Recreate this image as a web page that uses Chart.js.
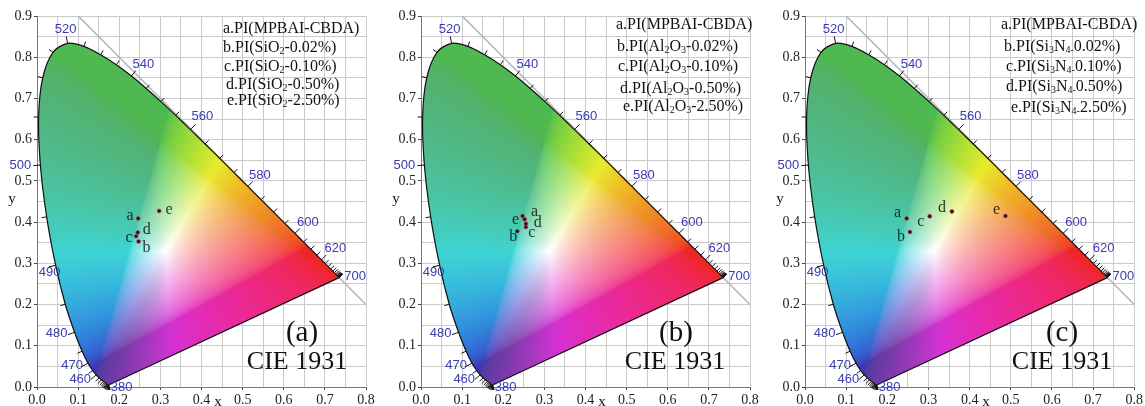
<!DOCTYPE html>
<html>
<head>
<meta charset="utf-8">
<script src="https://cdn.jsdelivr.net/npm/chart.js@4.4.0/dist/chart.umd.min.js"></script>
<style>
  html, body { margin: 0; padding: 0; background: #fff; }
  #wrap { position: relative; width: 1145px; height: 406px; overflow: hidden; }
  canvas { position: absolute; top: 0; }
</style>
</head>
<body>
<div id="wrap">
  <canvas id="cieA" width="380" height="406" style="left:0px"></canvas>
  <canvas id="cieB" width="380" height="406" style="left:383px"></canvas>
  <canvas id="cieC" width="378" height="406" style="left:767px"></canvas>
</div>
<script>
// CIE 1931 2-degree spectral locus, 5 nm steps
const wavelengths = [380,385,390,395,400,405,410,415,420,425,430,435,440,445,450,455,460,465,470,475,
  480,485,490,495,500,505,510,515,520,525,530,535,540,545,550,555,560,565,570,575,580,585,590,595,
  600,605,610,615,620,625,630,635,640,645,650,655,660,665,670,675,680,685,690,695,700];
const locusX = [0.1741,0.1740,0.1738,0.1736,0.1733,0.1730,0.1726,0.1721,0.1714,0.1703,0.1689,0.1669,
  0.1644,0.1611,0.1566,0.1510,0.1440,0.1355,0.1241,0.1096,0.0913,0.0687,0.0454,0.0235,0.0082,0.0039,
  0.0139,0.0389,0.0743,0.1142,0.1547,0.1929,0.2296,0.2658,0.3016,0.3373,0.3731,0.4087,0.4441,0.4788,
  0.5125,0.5448,0.5752,0.6029,0.6270,0.6482,0.6658,0.6801,0.6915,0.7006,0.7079,0.7140,0.7190,0.7230,
  0.7260,0.7283,0.7300,0.7311,0.7320,0.7327,0.7334,0.7340,0.7344,0.7346,0.7347];
const locusY = [0.0050,0.0050,0.0049,0.0049,0.0048,0.0048,0.0048,0.0048,0.0051,0.0058,0.0069,0.0086,
  0.0109,0.0138,0.0177,0.0227,0.0297,0.0399,0.0578,0.0868,0.1327,0.2007,0.2950,0.4127,0.5384,0.6548,
  0.7502,0.8120,0.8338,0.8262,0.8059,0.7816,0.7543,0.7243,0.6923,0.6589,0.6245,0.5896,0.5547,0.5202,
  0.4866,0.4544,0.4242,0.3965,0.3725,0.3514,0.3340,0.3197,0.3083,0.2993,0.2920,0.2859,0.2809,0.2770,
  0.2740,0.2717,0.2700,0.2689,0.2680,0.2673,0.2666,0.2660,0.2656,0.2654,0.2653];
const labeledWl = [380,460,470,480,490,500,520,540,560,580,600,620,700];

// x + y = 1 reference line
const diagX = [0.1, 0.8];
const diagY = [0.9, 0.2];

const sampleIds = ['a','b','c','d','e'];
const sio2X = [0.246, 0.247, 0.241, 0.245, 0.297];
const sio2Y = [0.409, 0.353, 0.366, 0.375, 0.427];
const al2o3X = [0.247, 0.234, 0.255, 0.255, 0.252];
const al2o3Y = [0.415, 0.378, 0.388, 0.396, 0.407];
const si3n4X = [0.247, 0.255, 0.303, 0.357, 0.487];
const si3n4Y = [0.409, 0.376, 0.414, 0.426, 0.415];

// ~ toggles subscript
const sio2Names = ['a.PI(MPBAI-CBDA)','b.PI(SiO~2~-0.02%)','c.PI(SiO~2~-0.10%)','d.PI(SiO~2~-0.50%)','e.PI(SiO~2~-2.50%)'];
const al2o3Names = ['a.PI(MPBAI-CBDA)','b.PI(Al~2~O~3~-0.02%)','c.PI(Al~2~O~3~-0.10%)','d.PI(Al~2~O~3~-0.50%)','e.PI(Al~2~O~3~-2.50%)'];
const si3n4Names = ['a.PI(MPBAI-CBDA)','b.PI(Si~3~N~4-~0.02%)','c.PI(Si~3~N~4-~0.10%)','d.PI(Si~3~N~4-~0.50%)','e.PI(Si~3~N~4-~2.50%)'];

// label offsets in px for the wavelength numbers
const wlOffset = {380:[13,2],460:[-16,5],470:[-16,2],480:[-18,1],490:[-6,7],500:[-20,0],
  520:[-2,-14],540:[12,-12],560:[12,-13],580:[12,-11],600:[13,-11],620:[14,-11],700:[16,-1]};

const panels = [
  { id: 'cieA', xs: sio2X, ys: sio2Y, names: sio2Names, tag: '(a)', yWidth: 37, padRight: 14,
    legend: [[186,13],[186,32],[187,51],[189,69],[190,85]],
    labelOff: [[-8,-3],[8,6],[-7,2],[9,-3],[10,-1]], tagPos: [265,317], ciePos: [260,346] },
  { id: 'cieB', xs: al2o3X, ys: al2o3Y, names: al2o3Names, tag: '(b)', yWidth: 38, padRight: 13,
    legend: [[195,9],[196,31],[197,51],[199,73],[202,91]],
    labelOff: [[12,-4],[-4,6],[6,6],[12,-1],[-9,1]], tagPos: [255,317], ciePos: [254,346] },
  { id: 'cieC', xs: si3n4X, ys: si3n4Y, names: si3n4Names, tag: '(c)', yWidth: 38, padRight: 10,
    legend: [[196,9],[199,31],[201,51],[201,71],[206,92]],
    labelOff: [[-9,-6],[-9,5],[-9,5],[-10,-4],[-9,-6]], tagPos: [257,317], ciePos: [257,346] }
];

const SERIF = '"Liberation Serif", "Times New Roman", serif';

function chromaColor(cx, cy) {
  const X = cx / cy, Z = (1 - cx - cy) / cy;
  let r = 3.2406 * X - 1.5372 - 0.4986 * Z;
  let g = -0.9689 * X + 1.8758 + 0.0415 * Z;
  let b = 0.0557 * X - 0.2040 + 1.0570 * Z;
  r = Math.max(r, 0); g = Math.max(g, 0); b = Math.max(b, 0);
  const m = Math.max(r, g, b) || 1;
  const gam = v => v <= 0.0031308 ? 12.92 * v : 1.055 * Math.pow(v, 1 / 2.4) - 0.055;
  r = gam(r / m); g = gam(g / m); b = gam(b / m);
  // hue based shading: the reference draws greens and blues/purples darker
  const mx = Math.max(r, g, b), mn = Math.min(r, g, b), d = mx - mn;
  let h = 0;
  if (d > 1e-6) {
    if (mx === r) h = 60 * (((g - b) / d) % 6);
    else if (mx === g) h = 60 * ((b - r) / d + 2);
    else h = 60 * ((r - g) / d + 4);
    if (h < 0) h += 360;
  }
  const s = d;
  const dG = Math.exp(-Math.pow((h - 135) / 50, 2));
  const dB = Math.exp(-Math.pow((h - 262) / 40, 2));
  const V = 1 - s * (0.06 + 0.24 * dG + 0.3 * dB);
  const w = 0.16 + s * (0.3 * dG + 0.2 * dB);
  return [V * (w + (1 - w) * r) * 255, V * (w + (1 - w) * g) * 255, V * (w + (1 - w) * b) * 255];
}

function drawRich(ctx, str, x, y, size) {
  let cx = x;
  str.split('~').forEach((s, k) => {
    const sub = k % 2 === 1;
    ctx.font = (sub ? Math.round(size * 0.62) : size) + 'px ' + SERIF;
    ctx.fillText(s, cx, y + (sub ? size * 0.24 : 0));
    cx += ctx.measureText(s).width;
  });
}

function buildChart(p) {
  const deco = {
    id: 'deco',
    beforeDatasetsDraw(chart) {
      const { ctx, chartArea: a, scales } = chart;
      const left = Math.floor(a.left), top = Math.floor(a.top);
      if (!chart.$fill) {
        const w = Math.ceil(a.right) - left, h = Math.ceil(a.bottom) - top;
        const off = document.createElement('canvas');
        off.width = w; off.height = h;
        const octx = off.getContext('2d');
        const img = octx.createImageData(w, h);
        for (let j = 0; j < h; j++) {
          const vy = Math.max(scales.y.getValueForPixel(top + j + 0.5), 0.003);
          for (let i = 0; i < w; i++) {
            const vx = scales.x.getValueForPixel(left + i + 0.5);
            const c = chromaColor(vx, vy);
            const k = (j * w + i) * 4;
            img.data[k] = c[0]; img.data[k + 1] = c[1]; img.data[k + 2] = c[2]; img.data[k + 3] = 255;
          }
        }
        octx.putImageData(img, 0, 0);
        chart.$fill = off;
      }
      const line = chart.getDatasetMeta(1).dataset;
      ctx.save();
      ctx.beginPath();
      line.updateControlPoints(a);
      line.path(ctx);
      ctx.closePath();
      ctx.clip();
      ctx.drawImage(chart.$fill, left, top);
      ctx.restore();
    },
    afterDatasetsDraw(chart) {
      const { ctx, chartArea: a, scales: { x: sx, y: sy } } = chart;
      const pts = wavelengths.map((w, i) => ({ x: sx.getPixelForValue(locusX[i]), y: sy.getPixelForValue(locusY[i]) }));
      const cx = sx.getPixelForValue(0.33), cy = sy.getPixelForValue(0.33);
      const n = pts.length;
      ctx.save();
      ctx.strokeStyle = '#111';
      ctx.lineWidth = 1;
      ctx.font = '13px "Liberation Sans", Arial, sans-serif';
      ctx.textAlign = 'center';
      ctx.textBaseline = 'middle';
      pts.forEach((pt, i) => {
        const p0 = pts[Math.max(i - 1, 0)], p1 = pts[Math.min(i + 1, n - 1)];
        const tx = p1.x - p0.x, ty = p1.y - p0.y;
        const L = Math.hypot(tx, ty) || 1;
        let nx = -ty / L, ny = tx / L;
        if (nx * (pt.x - cx) + ny * (pt.y - cy) < 0) { nx = -nx; ny = -ny; }
        const wl = wavelengths[i];
        const len = labeledWl.includes(wl) && wl !== 380 && wl !== 700 ? 7 : 5;
        ctx.beginPath();
        ctx.moveTo(pt.x, pt.y);
        ctx.lineTo(pt.x + nx * len, pt.y + ny * len);
        ctx.stroke();
      });
      ctx.fillStyle = '#3b3cb0';
      labeledWl.forEach(wl => {
        const i = wavelengths.indexOf(wl);
        const o = wlOffset[wl];
        ctx.fillText(String(wl), pts[i].x + o[0], pts[i].y + o[1]);
      });

      // sample letters
      ctx.fillStyle = 'rgba(8,22,20,0.85)';
      ctx.font = '16px ' + SERIF;
      chart.getDatasetMeta(0).data.forEach((el, i) => {
        ctx.fillText(sampleIds[i], el.x + p.labelOff[i][0], el.y + p.labelOff[i][1]);
      });

      // legend text
      ctx.fillStyle = '#111';
      ctx.textAlign = 'left';
      p.names.forEach((s, i) => drawRich(ctx, s, a.left + p.legend[i][0], a.top + p.legend[i][1], 16));

      // panel tag and title
      ctx.textAlign = 'center';
      ctx.fillStyle = '#111';
      ctx.font = '29px ' + SERIF;
      ctx.fillText(p.tag, a.left + p.tagPos[0], a.top + p.tagPos[1]);
      ctx.font = '26px ' + SERIF;
      ctx.fillText('CIE 1931', a.left + p.ciePos[0], a.top + p.ciePos[1]);

      // axis titles
      ctx.font = '15px ' + SERIF;
      ctx.fillText('x', sx.getPixelForValue(0.44), a.bottom + 15);
      ctx.fillText('y', a.left - 25, sy.getPixelForValue(0.455));
      ctx.restore();
    }
  };

  const tickCb = v => {
    const r = Math.round(v * 100);
    return r % 10 === 0 ? (r / 100).toFixed(1) : '';
  };
  const major = c => Math.round(c.tick.value * 100) % 10 === 0 ? '#444' : 'rgba(0,0,0,0)';

  return new Chart(document.getElementById(p.id), {
    type: 'scatter',
    data: {
      datasets: [
        {
          data: p.xs.map((x, i) => ({ x, y: p.ys[i] })),
          backgroundColor: '#3a0816',
          borderColor: 'rgba(190,80,110,0.85)',
          borderWidth: 0.8,
          pointRadius: 2,
          order: 0
        },
        {
          type: 'line',
          data: locusX.map((x, i) => ({ x, y: locusY[i] })),
          borderColor: '#111',
          borderWidth: 1.2,
          pointRadius: 0,
          tension: 0.3,
          fill: false,
          order: 1
        },
        {
          type: 'line',
          data: [{ x: locusX[locusX.length - 1], y: locusY[locusY.length - 1] }, { x: locusX[0], y: locusY[0] }],
          borderColor: '#111',
          borderWidth: 1.2,
          pointRadius: 0,
          fill: false,
          order: 1
        },
        {
          type: 'line',
          data: diagX.map((x, i) => ({ x, y: diagY[i] })),
          borderColor: '#b4b4b4',
          borderWidth: 1.5,
          pointRadius: 0,
          fill: false,
          order: 2
        }
      ]
    },
    options: {
      responsive: false,
      animation: false,
      events: [],
      layout: { padding: { top: 16, right: p.padRight, left: 0, bottom: 0 } },
      plugins: { legend: { display: false }, tooltip: { enabled: false } },
      scales: {
        x: {
          type: 'linear', min: 0, max: 0.8,
          afterFit: s => { s.height = 19; },
          ticks: { stepSize: 0.05, autoSkip: false, maxRotation: 0, padding: 2, callback: tickCb,
            color: '#222', font: { family: SERIF, size: 14 } },
          grid: { color: '#cbcbcb', lineWidth: 1, tickLength: 3, tickColor: major },
          border: { color: '#777', width: 1 }
        },
        y: {
          type: 'linear', min: 0, max: 0.9,
          afterFit: s => { s.width = p.yWidth; },
          ticks: { stepSize: 0.05, autoSkip: false, padding: 2, callback: tickCb,
            color: '#222', font: { family: SERIF, size: 14 } },
          grid: { color: '#cbcbcb', lineWidth: 1, tickLength: 3, tickColor: major },
          border: { color: '#777', width: 1 }
        }
      }
    },
    plugins: [deco]
  });
}

panels.forEach(buildChart);
</script>
</body>
</html>
